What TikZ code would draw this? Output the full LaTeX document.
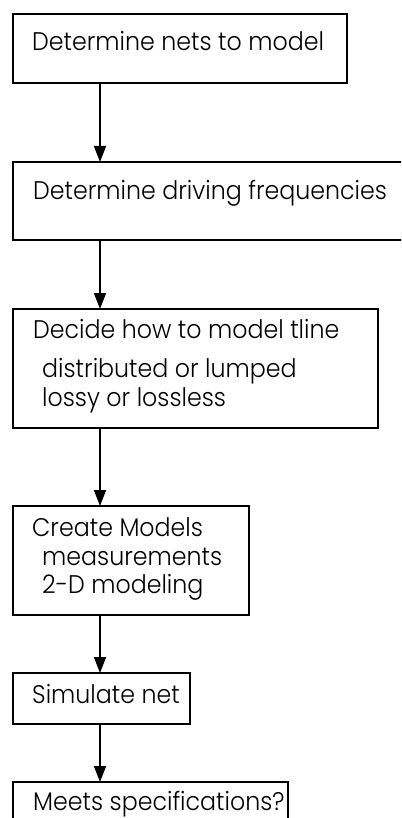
\documentclass[tikz,border=0pt]{standalone}
\usepackage{fontspec}
\setmainfont{Poppins}[UprightFont=* Light, FakeStretch=0.93]
\usetikzlibrary{arrows.meta}
\tikzset{
  box/.style={draw, line width=1.8pt, anchor=north west, inner sep=0pt},
  txt/.style={anchor=base west, inner sep=0pt, font=\fontsize{25.5}{30}\selectfont},
  arr/.style={line width=1.6pt, -{Triangle[length=16pt,width=12pt]}, shorten >=-1pt}
}
\begin{document}
\begin{tikzpicture}[x=1pt,y=1pt]
\useasboundingbox (0,0) rectangle (401,-818);
\clip (0,0) rectangle (401,-818);
\node[box, minimum width=334, minimum height=69] (b1) at (12,-13) {};
\node[box, minimum width=410, minimum height=78] (b2) at (12,-161) {};
\node[box, minimum width=365, minimum height=119] (b3) at (12,-308) {};
\node[box, minimum width=236, minimum height=109] (b4) at (12,-505) {};
\node[box, minimum width=177, minimum height=51] (b5) at (12,-672) {};
\node[box, minimum width=275, minimum height=60] (b6) at (12,-781) {};
\node[txt] (t1) at (32,-51) {Determine nets to model};
\node[txt] (t2) at (33,-200) {Determine driving frequencies};
\node[txt] (t3a) at (33,-338) {Decide how to model tline};
\node[txt] (t3b) at (42,-377) {distributed or lumped};
\node[txt] (t3c) at (42,-406) {lossy or lossless};
\node[txt] (t4a) at (32,-536) {Create Models};
\node[txt] (t4b) at (42,-565) {measurements};
\node[txt] (t4c) at (42,-593) {2-D modeling};
\node[txt] (t5) at (32,-703) {Simulate net};
\node[txt] (t6) at (33,-810) {Meets specifications?};
\draw[arr] ([xshift=88]b1.south west) -- ([xshift=88]b2.north west);
\draw[arr] ([xshift=88]b2.south west) -- ([xshift=88]b3.north west);
\draw[arr] ([xshift=88]b3.south west) -- ([xshift=88]b4.north west);
\draw[arr] ([xshift=88]b4.south west) -- ([xshift=88]b5.north west);
\draw[arr] ([xshift=88]b5.south west) -- ([xshift=88]b6.north west);
\end{tikzpicture}
\end{document}
